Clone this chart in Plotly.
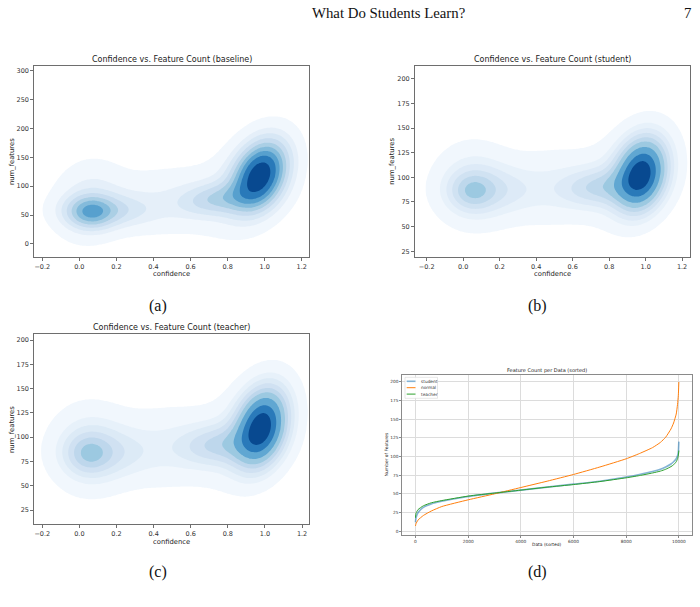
import numpy as np
import plotly.graph_objects as go

W, H = 700, 607

# ---------------- KDE panels (a)-(c) ----------------
# Gaussian components of each density: [weight, confidence mean, num_features mean, conf sd, feat sd, corr]
baseline_components = [
    [0.42, 0.975, 119, 0.09, 36, 0.30],
    [0.12, 0.93, 110, 0.15, 55, 0.35],
    [0.075, 0.06, 55, 0.08, 18, 0.0],
    [0.07, 0.16, 58, 0.15, 18, 0.0],
    [0.085, 0.05, 74, 0.12, 44, 0.10],
    [0.15, 0.50, 75, 0.30, 38, 0.15],
    [0.08, 0.75, 78, 0.13, 18, 0.20],
]
student_components = [
    [0.42, 0.975, 103, 0.085, 22, 0.20],
    [0.12, 0.95, 105, 0.14, 32, 0.25],
    [0.04, 0.05, 86, 0.075, 12, 0.0],
    [0.05, 0.15, 87, 0.14, 14, 0.0],
    [0.11, 0.05, 92, 0.13, 26, 0.0],
    [0.18, 0.50, 90, 0.30, 24, 0.10],
    [0.08, 0.75, 90, 0.13, 12, 0.10],
]
teacher_components = [
    [0.42, 0.98, 110, 0.085, 24, 0.25],
    [0.12, 0.95, 110, 0.14, 35, 0.30],
    [0.04, 0.05, 83, 0.075, 13, 0.0],
    [0.05, 0.15, 84, 0.14, 15, 0.0],
    [0.11, 0.05, 88, 0.13, 28, 0.0],
    [0.18, 0.50, 90, 0.30, 26, 0.10],
    [0.08, 0.75, 92, 0.13, 13, 0.10],
]
kde_titles = ["Confidence vs. Feature Count (baseline)",
              "Confidence vs. Feature Count (student)",
              "Confidence vs. Feature Count (teacher)"]
conf_ticks = [-0.2, 0.0, 0.2, 0.4, 0.6, 0.8, 1.0, 1.2]
feat_ticks_a = [0, 50, 100, 150, 200, 250, 300]
feat_ticks_bc = [25, 50, 75, 100, 125, 150, 175, 200]

# ---------------- Line panel (d) ----------------
data_index = [0, 20, 100, 300, 600, 1000, 2000, 3000, 4000, 5000, 6000, 7000,
              8000, 8500, 9000, 9300, 9500, 9700, 9800, 9900, 9950, 9980, 9999]
student_counts = [12, 18, 25, 32, 36.5, 40, 46.5, 51, 55, 59, 63, 67,
                  72.5, 76, 80, 83, 86, 90, 93, 97, 101, 106, 120]
normal_counts = [7, 10, 15, 21, 27, 33, 42, 50, 58.5, 67, 76, 86,
                 97, 104, 112, 119, 126, 137, 145, 157, 170, 182, 200]
teacher_counts = [18, 24, 29, 34, 38, 41, 47, 51, 55, 59, 62.5, 66.5,
                  71.5, 74.5, 78, 80.5, 83, 86.5, 89, 93, 97, 101, 108]
d_xticks = [0, 2000, 4000, 6000, 8000, 10000]
d_yticks = [0, 25, 50, 75, 100, 125, 150, 175, 200]

BLUES = [(247, 251, 255), (222, 235, 247), (198, 219, 239), (158, 202, 225),
         (107, 174, 214), (66, 146, 198), (33, 113, 181), (8, 81, 156), (8, 48, 107)]


def blues(t):
    t = min(max(t, 0.0), 1.0) * (len(BLUES) - 1)
    i = min(int(t), len(BLUES) - 2)
    f = t - i
    c = [BLUES[i][k] + (BLUES[i + 1][k] - BLUES[i][k]) * f for k in range(3)]
    return "rgb(%d,%d,%d)" % tuple(round(v) for v in c)


def kde_trace(comps, yr, xa, ya):
    gx = np.linspace(-0.8, 1.8, 280)
    gy = np.linspace(yr[0] - 120, yr[1] + 120, 280)
    X, Y = np.meshgrid(gx, gy)
    D = np.zeros_like(X)
    for w, mx, my, sx, sy, r in comps:
        u = (X - mx) / sx
        v = (Y - my) / sy
        q = (u * u - 2 * r * u * v + v * v) / (1 - r * r)
        D += w / (2 * np.pi * sx * sy * np.sqrt(1 - r * r)) * np.exp(-q / 2)
    # seaborn-style iso-proportion levels (levels=10, thresh=0.05)
    iso = np.linspace(0.05, 1, 10)
    sv = np.sort(D.ravel())[::-1]
    cum = np.cumsum(sv) / sv.sum()
    idx = np.searchsorted(cum, 1 - iso)
    levels = np.take(sv, idx, mode="clip")
    zt = np.interp(D, np.concatenate([[0.0], levels]), np.arange(-1, 10))
    mids = (levels[:-1] + levels[1:]) / 2
    tn = (mids - levels[0]) / (levels[-1] - levels[0])
    cols = ["white"] + [blues(t) for t in tn]
    cscale = [[k / 9, c] for k, c in enumerate(cols)]
    return go.Contour(x=gx, y=gy, z=zt, autocontour=False,
                      contours=dict(start=0, end=8, size=1, coloring="fill", showlines=False),
                      line=dict(width=0), colorscale=cscale, showscale=False,
                      hoverinfo="skip", xaxis=xa, yaxis=ya, showlegend=False)


def px_x(p):
    return p / W


def px_y(p):
    return 1 - p / H


fig = go.Figure()

panels = [
    (baseline_components, kde_titles[0], (34.3, 309.0), (65.7, 256.7), (-22, 308.5), feat_ticks_a, "x", "y"),
    (student_components, kde_titles[1], (415.0, 690.3), (65.7, 256.7), (19.5, 213.2), feat_ticks_bc, "x2", "y2"),
    (teacher_components, kde_titles[2], (34.3, 309.3), (334.0, 524.3), (10.3, 206.2), feat_ticks_bc, "x3", "y3"),
]

axis_line = "#6e6e6e"
tick_font = dict(family="DejaVu Sans", size=6.5, color="#333")
layout_axes = {}
annotations = []
shapes = []
for n, (comps, title, xp, yp, yr, yt, xa, ya) in enumerate(panels, start=1):
    fig.add_trace(kde_trace(comps, yr, xa, ya))
    sfx = "" if n == 1 else str(n)
    layout_axes["xaxis" + sfx] = dict(domain=[px_x(xp[0]), px_x(xp[1])], anchor=ya,
                                      range=[-0.243, 1.239] if n != 2 else [-0.264, 1.245],
                                      tickvals=conf_ticks,
                                      ticktext=["\u22120.2" if v < 0 else "%.1f" % v for v in conf_ticks],
                                      showline=True, mirror=True, linecolor=axis_line, linewidth=1,
                                      ticks="outside", ticklen=3, tickcolor=axis_line, tickwidth=0.8,
                                      tickfont=tick_font, showgrid=False, zeroline=False)
    layout_axes["yaxis" + sfx] = dict(domain=[px_y(yp[1]), px_y(yp[0])], anchor=xa,
                                      range=list(yr), tickvals=yt,
                                      showline=True, mirror=True, linecolor=axis_line, linewidth=1,
                                      ticks="outside", ticklen=3, tickcolor=axis_line, tickwidth=0.8,
                                      tickfont=tick_font, showgrid=False, zeroline=False)
    cx = (xp[0] + xp[1]) / 2
    annotations.append(dict(text=title, x=px_x(cx), y=px_y(yp[0] - 6.5), xref="paper", yref="paper",
                            showarrow=False, xanchor="center", yanchor="middle",
                            font=dict(family="DejaVu Sans", size=8, color="#222")))
    annotations.append(dict(text="confidence", x=px_x(cx), y=px_y(yp[1] + 17.5), xref="paper", yref="paper",
                            showarrow=False, xanchor="center", yanchor="middle",
                            font=dict(family="DejaVu Sans", size=6.8, color="#222")))
    annotations.append(dict(text="num_features", x=px_x(xp[0] - 22.5), y=px_y((yp[0] + yp[1]) / 2),
                            xref="paper", yref="paper", showarrow=False, textangle=-90,
                            xanchor="center", yanchor="middle",
                            font=dict(family="DejaVu Sans", size=6.8, color="#222")))

# panel (d)
series = [("student", student_counts, "rgba(31,119,180,0.55)", 1.6),
          ("normal", normal_counts, "#ff7f0e", 1.0),
          ("teacher", teacher_counts, "#2ca02c", 1.0)]
for name, vals, col, lw in series:
    fig.add_trace(go.Scatter(x=data_index, y=vals, mode="lines", name=name, showlegend=False,
                             line=dict(color=col, width=lw, shape="spline", smoothing=0.5),
                             xaxis="x4", yaxis="y4"))

# compact matplotlib-style legend box in the top-left corner of (d)
shapes.append(dict(type="rect", xref="paper", yref="paper", x0=px_x(405), x1=px_x(437.5),
                   y0=px_y(398.3), y1=px_y(377.3), line=dict(color="#d6d6d6", width=0.6),
                   fillcolor="rgba(255,255,255,0.9)", layer="above"))
for i, (name, vals, col, lw) in enumerate(series):
    yy = 381.3 + 6.4 * i
    shapes.append(dict(type="line", xref="paper", yref="paper", x0=px_x(406.7), x1=px_x(415.5),
                       y0=px_y(yy), y1=px_y(yy), line=dict(color=col, width=lw), layer="above"))
    annotations.append(dict(text=name, x=px_x(418.5), y=px_y(yy), xref="paper", yref="paper",
                            showarrow=False, xanchor="left", yanchor="middle",
                            font=dict(family="DejaVu Sans", size=4.3, color="#333")))

d_font = dict(family="DejaVu Sans", size=4.3, color="#333")
layout_axes["xaxis4"] = dict(domain=[px_x(402.3), px_x(692.0)], anchor="y4", range=[-500, 10499],
                             tickvals=d_xticks, ticktext=[str(v) for v in d_xticks],
                             showline=True, mirror=True, linecolor="#8a8a8a", linewidth=1,
                             ticks="outside", ticklen=2, tickcolor="#8a8a8a", tickwidth=0.6,
                             tickfont=d_font, showgrid=True, gridcolor="#dcdcdc", gridwidth=1, zeroline=False)
layout_axes["yaxis4"] = dict(domain=[px_y(534.7), px_y(374.7)], anchor="x4", range=[-4.75, 209.75],
                             tickvals=d_yticks, ticktext=[str(v) for v in d_yticks],
                             showline=True, mirror=True, linecolor="#8a8a8a", linewidth=1,
                             ticks="outside", ticklen=2, tickcolor="#8a8a8a", tickwidth=0.6,
                             tickfont=d_font, showgrid=True, gridcolor="#dcdcdc", gridwidth=1, zeroline=False)
annotations.append(dict(text="Feature Count per Data (sorted)", x=px_x(547), y=px_y(370.7), xref="paper",
                        yref="paper", showarrow=False, xanchor="center", yanchor="middle",
                        font=dict(family="DejaVu Sans", size=5, color="#222")))
annotations.append(dict(text="Data (sorted)", x=px_x(547), y=px_y(544.5), xref="paper",
                        yref="paper", showarrow=False, xanchor="center", yanchor="middle",
                        font=dict(family="DejaVu Sans", size=4.4, color="#222")))
annotations.append(dict(text="Number of Features", x=px_x(386.5), y=px_y(454.7), xref="paper",
                        yref="paper", showarrow=False, xanchor="center", yanchor="middle", textangle=-90,
                        font=dict(family="DejaVu Sans", size=4.4, color="#222")))

# page header and captions
serif = "Liberation Serif"
annotations.append(dict(text="What Do Students Learn?", x=px_x(310), y=px_y(13.5), xref="paper", yref="paper",
                        showarrow=False, xanchor="left", yanchor="middle",
                        font=dict(family=serif, size=14.8, color="#111")))
annotations.append(dict(text="7", x=px_x(693), y=px_y(13.5), xref="paper", yref="paper",
                        showarrow=False, xanchor="right", yanchor="middle",
                        font=dict(family=serif, size=14.8, color="#111")))
for cap, cx, cy in [("(a)", 157.7, 305.7), ("(b)", 537.7, 305.7), ("(c)", 157.7, 572), ("(d)", 537.7, 572)]:
    annotations.append(dict(text=cap, x=px_x(cx), y=px_y(cy), xref="paper", yref="paper",
                            showarrow=False, xanchor="center", yanchor="middle",
                            font=dict(family=serif, size=16, color="#111")))

fig.update_layout(width=W, height=H, margin=dict(l=0, r=0, t=0, b=0),
                  paper_bgcolor="white", plot_bgcolor="white",
                  annotations=annotations, shapes=shapes, showlegend=False,
                  **layout_axes)

fig.write_html("out.html")
